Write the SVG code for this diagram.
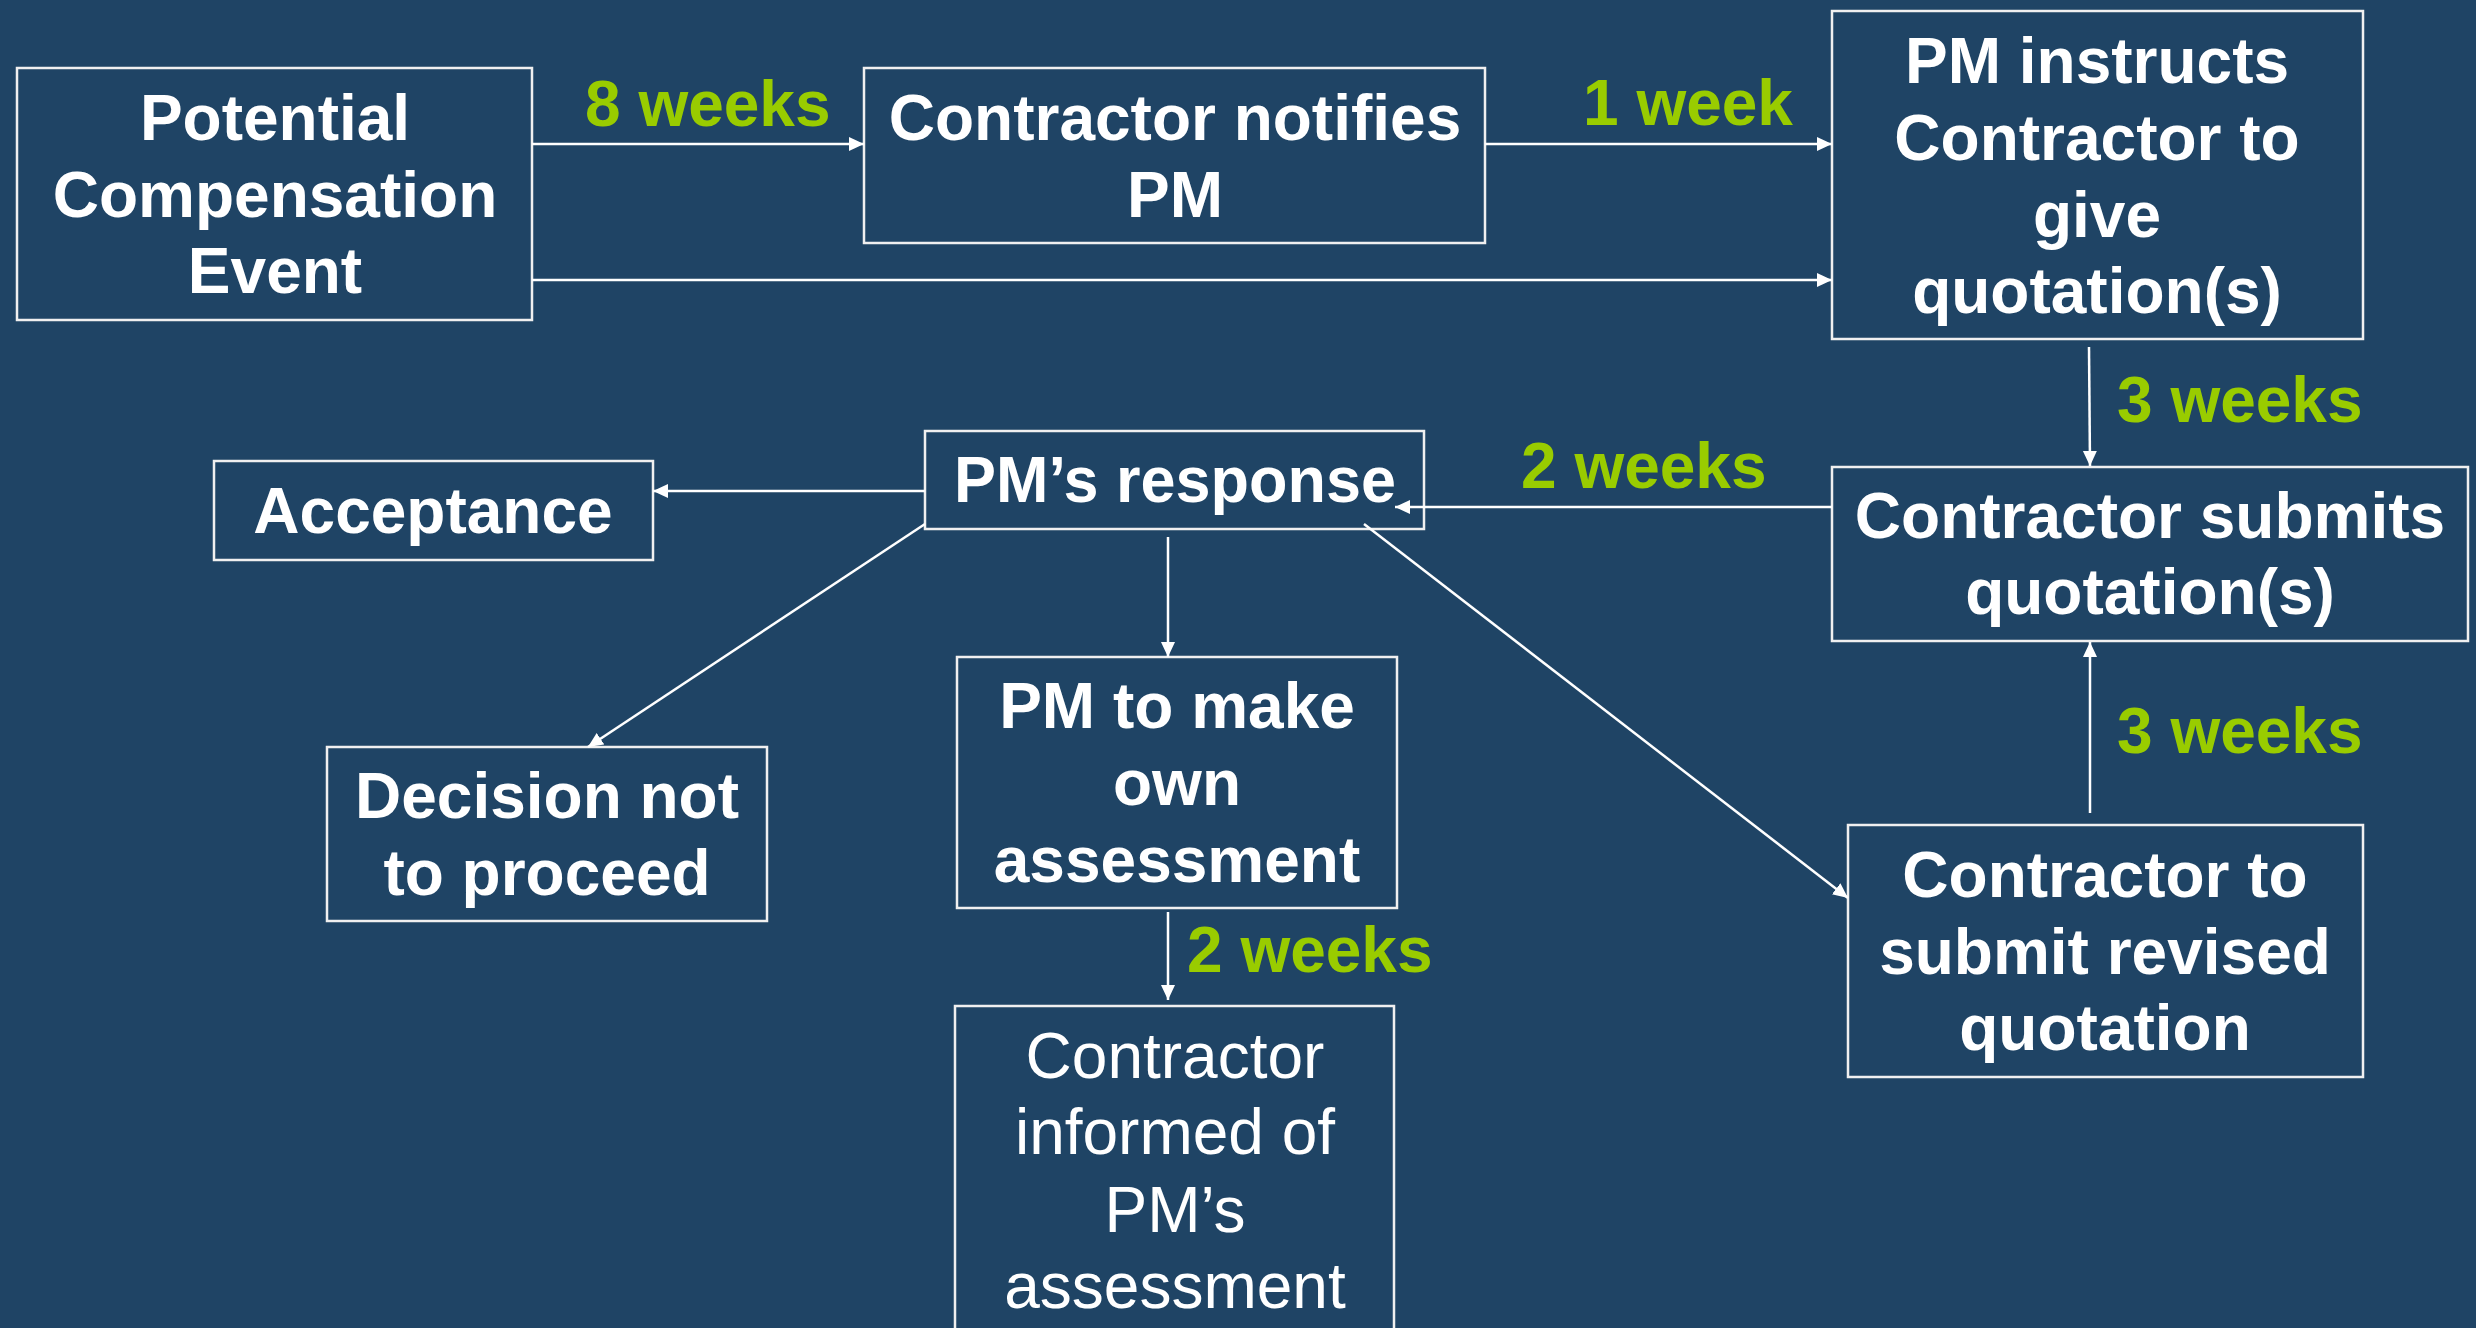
<svg xmlns="http://www.w3.org/2000/svg" width="2476" height="1328" viewBox="0 0 2476 1328">
<style>
.box{fill:#1F4465;stroke:#F0F0F0;stroke-width:2.5}
.t{font-family:"Liberation Sans",Arial,sans-serif;font-size:64px;font-weight:bold;fill:#FFFFFF;text-anchor:middle}
.r{font-weight:normal}
.g{font-family:"Liberation Sans",Arial,sans-serif;font-size:64px;font-weight:bold;fill:#99CC00}
.c{stroke:#FFFFFF;stroke-width:2.5;fill:none;marker-end:url(#ah)}
</style>
<defs>
<marker id="ah" markerUnits="userSpaceOnUse" markerWidth="16" markerHeight="16" refX="15" refY="7" orient="auto">
<path d="M0,0 L15,7 L0,14 z" fill="#FFFFFF"/>
</marker>
</defs>
<rect width="2476" height="1328" fill="#1F4465"/>
<g id="pce">
<rect class="box" x="17" y="68" width="515" height="252"/>
<text class="t" x="275" y="140">Potential</text>
<text class="t" x="275" y="217">Compensation</text>
<text class="t" x="275" y="293">Event</text>
</g>
<g id="notifies">
<rect class="box" x="864" y="68" width="621" height="175"/>
<text class="t" x="1175" y="140">Contractor notifies</text>
<text class="t" x="1175" y="217">PM</text>
</g>
<g id="instructs">
<rect class="box" x="1832" y="11" width="531" height="328"/>
<text class="t" x="2097" y="83">PM instructs</text>
<text class="t" x="2097" y="160">Contractor to</text>
<text class="t" x="2097" y="237">give</text>
<text class="t" x="2097" y="313">quotation(s)</text>
</g>
<g id="submits">
<rect class="box" x="1832" y="467" width="636" height="174"/>
<text class="t" x="2150" y="538">Contractor submits</text>
<text class="t" x="2150" y="614">quotation(s)</text>
</g>
<g id="response">
<rect class="box" x="925" y="431" width="499" height="98"/>
<text class="t" x="1175" y="502" textLength="442" lengthAdjust="spacingAndGlyphs">PM’s response</text>
</g>
<g id="acceptance">
<rect class="box" x="214" y="461" width="439" height="99"/>
<text class="t" x="433" y="533">Acceptance</text>
</g>
<g id="decision">
<rect class="box" x="327" y="747" width="440" height="174"/>
<text class="t" x="547" y="818">Decision not</text>
<text class="t" x="547" y="895">to proceed</text>
</g>
<g id="own">
<rect class="box" x="957" y="657" width="440" height="251"/>
<text class="t" x="1177" y="728">PM to make</text>
<text class="t" x="1177" y="805">own</text>
<text class="t" x="1177" y="882">assessment</text>
</g>
<g id="informed">
<rect class="box" x="955" y="1006" width="439" height="340"/>
<text class="t r" x="1175" y="1078">Contractor</text>
<text class="t r" x="1175" y="1154">informed of</text>
<text class="t r" x="1175" y="1232">PM’s</text>
<text class="t r" x="1175" y="1308">assessment</text>
</g>
<g id="revised">
<rect class="box" x="1848" y="825" width="515" height="252"/>
<text class="t" x="2105" y="897">Contractor to</text>
<text class="t" x="2105" y="974">submit revised</text>
<text class="t" x="2105" y="1050">quotation</text>
</g>
<g id="connectors">
<line class="c" x1="532" y1="144" x2="864" y2="144"/>
<line class="c" x1="1485" y1="144" x2="1832" y2="144"/>
<line class="c" x1="532" y1="280" x2="1832" y2="280"/>
<line class="c" x1="2089" y1="347" x2="2090" y2="466"/>
<line class="c" x1="1832" y1="507" x2="1395" y2="507"/>
<line class="c" x1="925" y1="491" x2="653" y2="491"/>
<line class="c" x1="925" y1="524" x2="588" y2="747"/>
<line class="c" x1="1168" y1="537" x2="1168" y2="657"/>
<line class="c" x1="1364" y1="524" x2="1848" y2="898"/>
<line class="c" x1="1168" y1="912" x2="1168" y2="1000"/>
<line class="c" x1="2090" y1="813" x2="2090" y2="642"/>
<text class="g" x="585" y="126">8 weeks</text>
<text class="g" x="1583" y="125">1 week</text>
<text class="g" x="2117" y="422">3 weeks</text>
<text class="g" x="1521" y="488">2 weeks</text>
<text class="g" x="2117" y="753">3 weeks</text>
<text class="g" x="1187" y="972">2 weeks</text>
</g>
</svg>
